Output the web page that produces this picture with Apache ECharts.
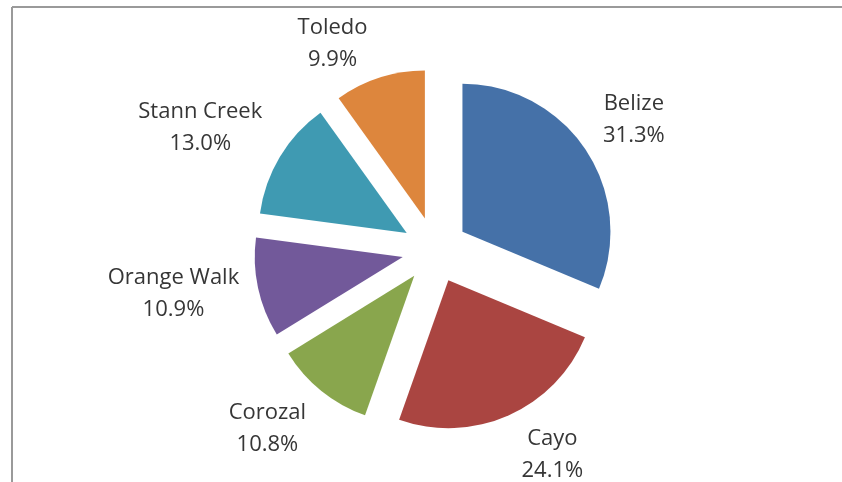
<!DOCTYPE html>
<html>
<head>
<meta charset="utf-8">
<script src="https://cdn.jsdelivr.net/npm/echarts@6/dist/echarts.min.js"></script>
<style>html,body{margin:0;padding:0;background:#fff}#c{width:842px;height:482px}</style>
</head>
<body>
<div id="c"></div>
<script>
const categories = ['Belize', 'Cayo', 'Corozal', 'Orange Walk', 'Stann Creek', 'Toledo'];
const shares = [31.3, 24.1, 10.8, 10.9, 13.0, 9.9];
const colors = ['#4571A8', '#AA4541', '#89A64D', '#72599A', '#3F9AB2', '#DD863D'];

const OFFSET = 33;

// mid-angle direction of each slice (clockwise from 12 o'clock), derived from the data
const total = shares.reduce((a, b) => a + b, 0);
const dirs = [];
let acc = 0;
shares.forEach(v => {
  const mid = (acc + v / 2) / total * 2 * Math.PI;
  dirs.push([Math.sin(mid), -Math.cos(mid)]);
  acc += v;
});

const chart = echarts.init(document.getElementById('c'), null, {renderer: 'canvas'});
chart.setOption({
  animation: false,
  backgroundColor: '#ffffff',
  graphic: [
    {type: 'line', shape: {x1: 12, y1: 7, x2: 12, y2: 482}, style: {stroke: '#9a9a9a', lineWidth: 2}},
    {type: 'line', shape: {x1: 12, y1: 7, x2: 842, y2: 7}, style: {stroke: '#9a9a9a', lineWidth: 2}}
  ],
  series: [{
    type: 'pie',
    center: [435, 250],
    radius: 148,
    startAngle: 90,
    clockwise: true,
    selectedMode: 'multiple',
    selectedOffset: OFFSET,
    label: {
      show: true,
      position: 'outside',
      formatter: p => p.name + '\n' + p.value.toFixed(1) + '%',
      fontFamily: 'Open Sans',
      fontSize: 22,
      lineHeight: 32,
      color: '#363636'
    },
    labelLine: {show: false, length: 10, length2: 0},
    labelLayout: function (p) {
      const d = dirs[p.dataIndex];
      const hw = p.labelRect.width / 2, hh = p.labelRect.height / 2;
      const ky = Math.min(1, Math.max(0, (Math.abs(d[1]) - 0.2) / 0.3)) * 0.85;
      return {
        dx: Math.sign(d[0]) * (hw + 4),
        dy: Math.sign(d[1]) * hh * ky + 3,
        align: 'center',
        verticalAlign: 'middle'
      };
    },
    emphasis: {disabled: true},
    data: categories.map((n, i) => ({name: n, value: shares[i], selected: true, itemStyle: {color: colors[i]}}))
  }]
});
</script>
</body>
</html>
